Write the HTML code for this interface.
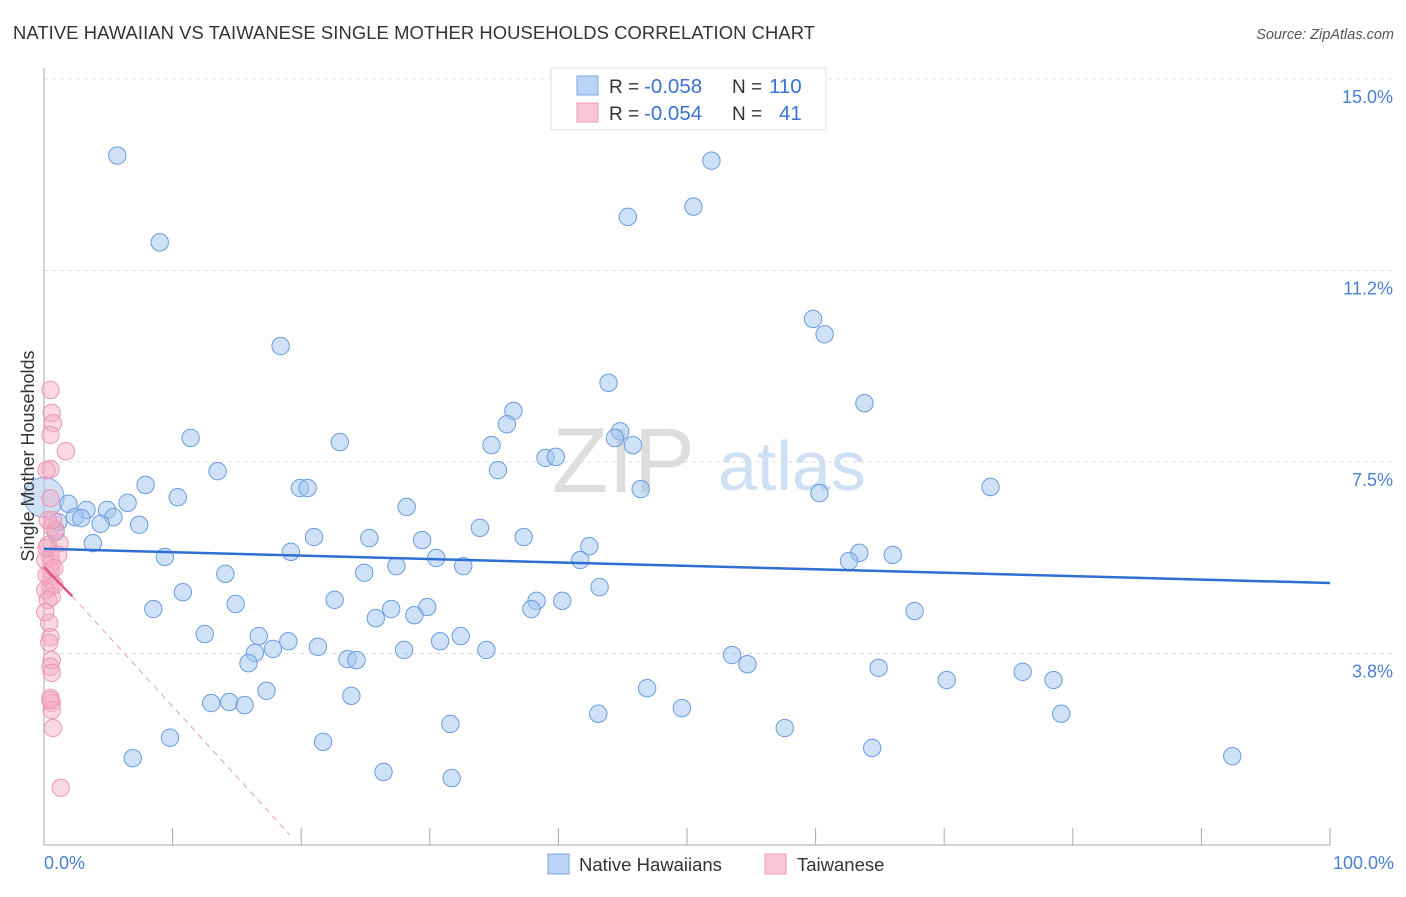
<!DOCTYPE html>
<html><head><meta charset="utf-8"><style>
body{margin:0;background:#fff;font-family:"Liberation Sans",sans-serif}
svg text{font-family:"Liberation Sans",sans-serif}
</style></head><body>
<svg id="chart" width="1406" height="892">
<text x="13" y="39" font-size="18.4" fill="#333" textLength="802">NATIVE HAWAIIAN VS TAIWANESE SINGLE MOTHER HOUSEHOLDS CORRELATION CHART</text>
<text x="1394" y="39" font-size="14.5" fill="#555" font-style="italic" text-anchor="end">Source: ZipAtlas.com</text>
<text x="552" y="492" font-size="92" fill="#ddd" font-family="Liberation Serif">ZIP</text>
<text x="718" y="490" font-size="70" fill="#cfe0f4">atlas</text>
<g id="grid"></g>
<g id="axes"></g>
<g id="pts"></g>
<g id="trends"></g>
<text transform="translate(34,456) rotate(-90)" font-size="18" fill="#333" text-anchor="middle">Single Mother Households</text>
<text x="44" y="869" font-size="18" fill="#4a7fd4">0.0%</text>
<text x="1394" y="869" font-size="18" fill="#4a7fd4" text-anchor="end">100.0%</text>
<g>
<rect x="551" y="68" width="275" height="62" fill="#fff" stroke="#ddd"/>
<rect x="577" y="76" width="21" height="19" fill="#b9d2f5" stroke="#7ea8e6"/>
<rect x="577" y="103" width="21" height="19" fill="#f8c6d5" stroke="#ee9db6"/>
<text x="609" y="93" font-size="19" fill="#333">R =</text>
<text x="644" y="93" font-size="20.5" fill="#3a73d1">-0.058</text>
<text x="732" y="93" font-size="19" fill="#333">N =</text>
<text x="769" y="93" font-size="20.5" fill="#3a73d1">110</text>
<text x="609" y="120" font-size="19" fill="#333">R =</text>
<text x="644" y="120" font-size="20.5" fill="#3a73d1">-0.054</text>
<text x="732" y="120" font-size="19" fill="#333">N =</text>
<text x="779" y="120" font-size="20.5" fill="#3a73d1">41</text>
</g>
<g>
<rect x="548" y="854" width="21" height="20" fill="#b9d2f5" stroke="#7ea8e6"/>
<text x="579" y="871" font-size="18.5" fill="#333">Native Hawaiians</text>
<rect x="765" y="854" width="21" height="20" fill="#f8c6d5" stroke="#ee9db6"/>
<text x="797" y="871" font-size="18.5" fill="#333">Taiwanese</text>
</g>
</svg>
<script>
const yTicks=[3.8,7.5,11.2,15.0];
const yTickVals=[3.75,7.5,11.25,15.0];
const xTicks=[0,10,20,30,40,50,60,70,80,90,100];
const blue=[[5.7,13.5],[9.0,11.8],[18.4,9.77],[51.9,13.4],[45.4,12.3],[50.5,12.5],[59.8,10.3],[60.7,10.0],[43.9,9.05],[63.8,8.65],[36.5,8.5],[36.0,8.24],[44.8,8.1],[44.4,7.97],[45.8,7.83],[34.8,7.83],[23.0,7.89],[11.4,7.97],[39.0,7.58],[39.8,7.6],[35.3,7.34],[13.5,7.32],[7.9,7.05],[10.4,6.81],[19.9,6.99],[20.5,6.99],[46.4,6.97],[60.3,6.89],[73.6,7.01],[28.2,6.62],[6.5,6.7],[1.9,6.68],[3.3,6.56],[4.9,6.56],[2.4,6.42],[2.9,6.4],[5.4,6.42],[4.4,6.29],[7.4,6.27],[1.1,6.32],[0.9,6.13],[33.9,6.21],[21.0,6.03],[25.3,6.01],[29.4,5.97],[37.3,6.03],[3.8,5.91],[42.4,5.85],[19.2,5.74],[30.5,5.62],[9.4,5.64],[41.7,5.58],[63.4,5.72],[66.0,5.68],[62.6,5.56],[27.4,5.46],[32.6,5.46],[14.1,5.31],[24.9,5.33],[43.2,5.05],[10.8,4.95],[22.6,4.8],[38.3,4.78],[40.3,4.78],[14.9,4.72],[8.5,4.62],[29.8,4.66],[27.0,4.62],[37.9,4.62],[25.8,4.44],[28.8,4.5],[67.7,4.58],[12.5,4.13],[16.7,4.09],[19.0,3.99],[32.4,4.09],[30.8,3.99],[21.3,3.88],[28.0,3.82],[34.4,3.82],[16.4,3.76],[17.8,3.84],[53.5,3.72],[23.6,3.64],[24.3,3.62],[15.9,3.56],[54.7,3.54],[64.9,3.47],[76.1,3.39],[70.2,3.23],[78.5,3.23],[17.3,3.02],[46.9,3.07],[23.9,2.92],[13.0,2.78],[14.4,2.8],[15.6,2.74],[43.1,2.57],[49.6,2.68],[79.1,2.57],[31.6,2.37],[57.6,2.29],[9.8,2.1],[21.7,2.02],[64.4,1.9],[6.9,1.7],[92.4,1.74],[26.4,1.43],[31.7,1.31]];
const pink=[[0.5,8.91],[0.6,8.46],[0.7,8.26],[0.5,8.03],[1.7,7.71],[0.5,7.36],[0.2,7.34],[0.5,6.79],[0.6,6.23],[1.2,5.91],[0.5,5.64],[0.6,5.52],[0.5,5.38],[0.5,5.19],[0.5,5.05],[0.6,4.86],[0.4,4.35],[0.5,4.07],[0.4,3.96],[0.6,3.62],[0.5,3.49],[0.6,3.37],[0.5,2.88],[0.6,2.78],[0.6,2.64],[0.7,2.29],[1.3,1.12],[0.3,6.36],[0.9,6.17],[1.1,5.68],[0.3,5.87],[0.2,5.29],[0.8,5.09],[0.1,4.99],[0.7,6.36],[0.3,4.8],[0.1,4.56],[0.5,2.84],[0.1,5.58],[0.8,5.42],[0.2,5.82]];
const blueTrend=[[0,5.8],[100,5.13]];
const pinkTrendSolid=[[0,5.44],[2.2,4.87]];
const pinkTrendDash=[[2.2,4.87],[19.1,0.2]];
const big=[[0,6.81]];
const NS="http://www.w3.org/2000/svg";
const X=v=>44+v*12.86, Y=v=>845-v*51.07;
function mk(t,p,a){const e=document.createElementNS(NS,t);for(const k in a)e.setAttribute(k,a[k]);p.appendChild(e);return e;}
const g=document.getElementById('grid'),ax=document.getElementById('axes'),pts=document.getElementById('pts'),tr=document.getElementById('trends');
yTickVals.forEach((v,i)=>{
 const l=mk('line',g,{x1:44,x2:1393,y1:Y(v),y2:Y(v),stroke:'#ddd','stroke-dasharray':'4,4'});
 
 
 const t=mk('text',g,{x:1393,y:Y(v)+24,'font-size':18,fill:'#4a7fd4','text-anchor':'end'});
 t.textContent=yTicks[i].toFixed(1)+'%';
 
 
});
let a1=mk('line',ax,{x1:44,x2:44,y1:68,y2:845,stroke:'#aaa'});


let a2=mk('line',ax,{x1:44,x2:1330,y1:845,y2:845,stroke:'#aaa'});


xTicks.forEach(v=>{const t=mk('line',ax,{x1:X(v),x2:X(v),y1:828,y2:845,stroke:'#aaa'});
 
 });
big.forEach(p=>{const c=mk('circle',pts,{cx:X(p[0]),cy:Y(p[1]),r:20,fill:'rgba(160,195,240,0.5)',stroke:'#7ea8e6'});
 
 });
blue.forEach(p=>{const c=mk('circle',pts,{cx:X(p[0]),cy:Y(p[1]),r:8.7,fill:'rgba(160,195,240,0.5)',stroke:'#6a9be0','stroke-width':1});
 
 });
pink.forEach(p=>{const c=mk('circle',pts,{cx:X(p[0]),cy:Y(p[1]),r:8.7,fill:'rgba(245,170,195,0.45)',stroke:'#eb98b2','stroke-width':1});
 
 });
let b=mk('line',tr,{x1:X(blueTrend[0][0]),y1:Y(blueTrend[0][1]),x2:X(blueTrend[1][0]),y2:Y(blueTrend[1][1]),stroke:'#2f6fd3','stroke-width':2.5});


let p1=mk('line',tr,{x1:X(pinkTrendSolid[0][0]),y1:Y(pinkTrendSolid[0][1]),x2:X(pinkTrendSolid[1][0]),y2:Y(pinkTrendSolid[1][1]),stroke:'#e2557f','stroke-width':2.5});


let p2=mk('line',tr,{x1:X(pinkTrendDash[0][0]),y1:Y(pinkTrendDash[0][1]),x2:X(pinkTrendDash[1][0]),y2:Y(pinkTrendDash[1][1]),stroke:'#ec9ab3','stroke-width':1,'stroke-dasharray':'6,5'});


</script>
</body></html>
